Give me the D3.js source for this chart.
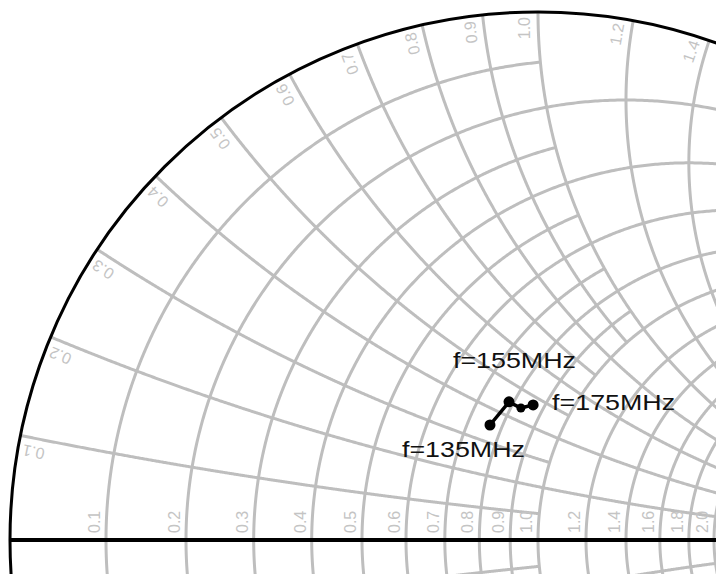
<!DOCTYPE html>
<html><head><meta charset="utf-8">
<script src="https://cdn.jsdelivr.net/npm/d3@7"></script>
<style>html,body{margin:0;padding:0;background:#fff;overflow:hidden}</style>
</head><body>
<svg id="chart" width="716" height="574"></svg>
<script>
// ---- data ----
// resistance circles: value and the |reactance| at which each circle stops
const rValues = [0.1,0.2,0.3,0.4,0.5,0.6,0.7,0.8,0.9,1.0,1.2,1.4,1.6,1.8,2.0,3,4,5,10,20,50];
const rLimits = [1,  2,  1,  2,  1,  2,  1,  2,  1,  5,  2,  2,  2,  2,  5,  5,5,10,20,50,Infinity];
// reactance arcs: value and the resistance at which each arc stops
const xValues = [0.1,0.2,0.3,0.4,0.5,0.6,0.7,0.8,0.9,1.0,1.2,1.4,1.6,1.8,2.0,3,4,5,10,20,50];
const xLimits = [1,  2,  1,  2,  1,  2,  1,  2,  1,  5,  2,  2,  2,  2,  5,  5,5,10,20,50,Infinity];
// tick labels
const rLabels = ["0.1","0.2","0.3","0.4","0.5","0.6","0.7","0.8","0.9","1.0","1.2","1.4","1.6","1.8","2.0"];
const xLabels = ["0.1","0.2","0.3","0.4","0.5","0.6","0.7","0.8","0.9","1.0","1.2","1.4"];
// measured impedance (normalized)
const freqs   = [135, 155, 165, 175];
const zReal   = [0.763, 0.786, 0.830, 0.862];
const zImag   = [0.352, 0.443, 0.443, 0.472];
const pointLabels = ["f=135MHz","f=155MHz",null,"f=175MHz"];

// ---- layout ----
const cx = 538, cy = 540, R = 528;
const gx = d3.scaleLinear().domain([-1,1]).range([cx-R, cx+R]);
const gy = d3.scaleLinear().domain([-1,1]).range([cy+R, cy-R]);
const gridColor = "#bebebe";
const svg = d3.select("#chart");

function gamma(r, x){
  const a=r-1, b=x, c=r+1, d=x, den=c*c+d*d;
  return [(a*c+b*d)/den, (b*c-a*d)/den];
}
const line = d3.line().x(p=>gx(p[0])).y(p=>gy(p[1]));

const gGrid = svg.append("g");
// resistance circles
rValues.forEach((r,i)=>{
  const X = rLimits[i];
  const tMax = isFinite(X) ? Math.atan(X) : Math.PI/2 - 1e-6;
  const pts = d3.range(0, 801).map(k=>{
    const t = -tMax + 2*tMax*k/800;
    return gamma(r, Math.tan(t));
  });
  gGrid.append("path").attr("d", line(pts)).attr("fill","none")
    .attr("stroke",gridColor).attr("stroke-width",3);
});
// reactance arcs (upper and lower)
xValues.forEach((x,i)=>{
  const rm = xLimits[i];
  const uMax = isFinite(rm) ? Math.atan(rm) : Math.PI/2 - 1e-6;
  [1,-1].forEach(s=>{
    const pts = d3.range(0, 601).map(k=>gamma(Math.tan(uMax*k/600), s*x));
    gGrid.append("path").attr("d", line(pts)).attr("fill","none")
      .attr("stroke",gridColor).attr("stroke-width",3);
  });
});

// real axis
svg.append("line").attr("x1",gx(-1)).attr("x2",gx(1)).attr("y1",gy(0)).attr("y2",gy(0))
  .attr("stroke","#000").attr("stroke-width",4);
// outer circle
svg.append("circle").attr("cx",gx(0)).attr("cy",gy(0)).attr("r",gx(1)-gx(0))
  .attr("fill","none").attr("stroke","#000").attr("stroke-width",3);

// resistance labels along the real axis
const labFont = "'Liberation Sans', Arial, sans-serif";
rLabels.forEach(l=>{
  const r = +l, g = gamma(r,0);
  svg.append("text").text(l)
    .attr("transform",`translate(${gx(g[0])-6},${gy(0)-7}) rotate(-90)`)
    .attr("text-anchor","start").attr("font-family",labFont).attr("font-size",16)
    .attr("fill","#c4c4c4");
});
// reactance labels along the outer circle
xLabels.forEach(l=>{
  const x = +l, th = Math.PI - 2*Math.atan(x);
  const rr = R - 5, off = 8;
  const px = cx + rr*Math.cos(th) - off*Math.sin(th);
  const py = cy - rr*Math.sin(th) - off*Math.cos(th);
  svg.append("text").text(l)
    .attr("transform",`translate(${px},${py}) rotate(${-th*180/Math.PI})`)
    .attr("text-anchor","end").attr("font-family",labFont).attr("font-size",16)
    .attr("fill","#c4c4c4");
});

// data trace
const data = freqs.map((f,i)=>({f, g:gamma(zReal[i], zImag[i]), label:pointLabels[i]}));
svg.append("path").attr("d", line(data.map(d=>d.g))).attr("fill","none")
  .attr("stroke","#000").attr("stroke-width",3.5);
svg.selectAll("circle.pt").data(data).join("circle").attr("class","pt")
  .attr("cx",d=>gx(d.g[0])).attr("cy",d=>gy(d.g[1])).attr("r",d=>d.label?5.5:4.5).attr("fill","#000");
const labOff = {135:[-88,32], 155:[-56,-34], 175:[19,5]};
data.filter(d=>d.label).forEach(d=>{
  const o = labOff[d.f];
  svg.append("text").text(d.label)
    .attr("x", gx(d.g[0])+o[0]).attr("y", gy(d.g[1])+o[1])
    .attr("font-family",labFont).attr("font-size",22).attr("fill","#111")
    .attr("textLength",123).attr("lengthAdjust","spacingAndGlyphs");
});
</script>
</body></html>
